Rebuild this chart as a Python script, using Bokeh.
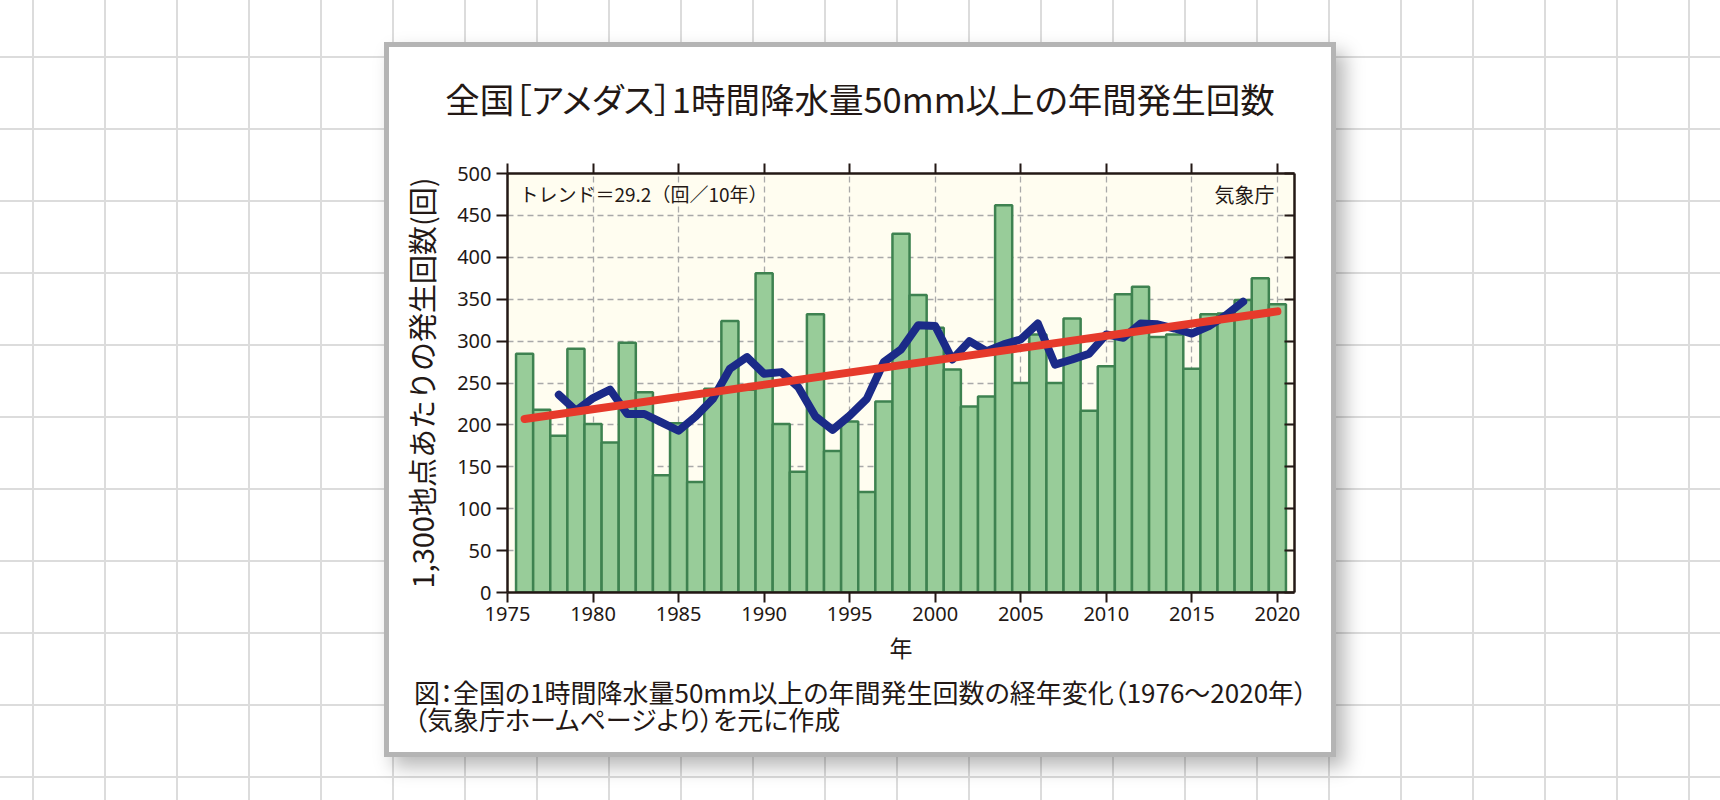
from bokeh.plotting import figure
from bokeh.models import Range1d, LinearAxis, SingleIntervalTicker, Label, CustomJSTickFormatter, Div
from bokeh.layouts import column
from bokeh.embed import file_html
from bokeh.resources import INLINE

# ---------------- data ----------------
years = list(range(1976, 2021))
counts = [285, 218, 187, 291, 201, 179, 298, 239, 140, 202,
          132, 243, 324, 242, 381, 201, 144, 332, 169, 204,
          120, 228, 428, 355, 316, 266, 222, 234, 462, 250,
          308, 250, 327, 217, 270, 356, 365, 305, 308, 267,
          332, 333, 349, 375, 344]
ma_years = list(range(1978, 2019))
ma_values = [236, 217, 232, 242, 213, 213, 203, 193, 210, 231,
             267, 281, 261, 263, 245, 210, 194, 211, 231, 275,
             290, 319, 318, 278, 300, 288, 296, 302, 321, 272,
             278, 285, 308, 304, 321, 320, 315, 309, 318, 331, 347]
trend_years = [1976, 2020]
trend_values = [207, 335.5]

title_text = "全国［アメダス］1時間降水量50mm以上の年間発生回数"
y_label = "1,300地点あたりの発生回数(回)"
x_label = "年"
trend_text = "トレンド＝29.2（回／10年）"
source_text = "気象庁"
caption1 = "図：全国の1時間降水量50mm以上の年間発生回数の経年変化（1976～2020年）"
caption2 = "（気象庁ホームページより）を元に作成"

FONT = "Noto Sans CJK JP"
NUMFONT = "Noto Sans"
TXT = "#231815"

# ---------------- figure ----------------
p = figure(width=942, height=525,
           x_range=Range1d(1975, 2021), y_range=Range1d(0, 500),
           output_backend="svg", toolbar_location=None,
           min_border_left=118, min_border_right=37,
           min_border_top=26, min_border_bottom=80)
p.background_fill_color = "#fffdf0"
p.border_fill_color = "white"
p.outline_line_color = None
p.margin = (0, 0, 0, 0)

def style_axis(ax):
    ax.axis_line_color = TXT
    ax.axis_line_width = 2.5
    ax.major_tick_line_color = TXT
    ax.major_tick_line_width = 2
    ax.minor_tick_line_color = None
    ax.major_label_text_color = TXT
    ax.major_label_text_font = NUMFONT
    ax.axis_label_text_color = TXT
    ax.axis_label_text_font = FONT
    ax.axis_label_text_font_style = "normal"

xax = p.xaxis[0]
xax.ticker = SingleIntervalTicker(interval=5, num_minor_ticks=0)
style_axis(xax)
xax.major_tick_in = 0
xax.major_tick_out = 10
xax.major_label_text_font_size = "20px"
xax.major_label_standoff = 4
xax.axis_label = x_label
xax.axis_label_text_font_size = "23px"
xax.axis_label_standoff = 6

yax = p.yaxis[0]
yax.ticker = SingleIntervalTicker(interval=50, num_minor_ticks=0)
style_axis(yax)
yax.major_tick_in = 0
yax.major_tick_out = 11
yax.major_label_text_font_size = "20px"
yax.major_label_standoff = 5
yax.axis_label = y_label
yax.axis_label_text_font_size = "29px"
yax.axis_label_standoff = 12

top_ax = LinearAxis(ticker=SingleIntervalTicker(interval=5, num_minor_ticks=0),
                    formatter=CustomJSTickFormatter(code="return ''"))
style_axis(top_ax)
top_ax.major_tick_in = 0
top_ax.major_tick_out = 10
p.add_layout(top_ax, "above")

right_ax = LinearAxis(ticker=SingleIntervalTicker(interval=50, num_minor_ticks=0),
                      formatter=CustomJSTickFormatter(code="return ''"))
style_axis(right_ax)
right_ax.major_tick_in = 10
right_ax.major_tick_out = 0
p.add_layout(right_ax, "right")

for g in (p.xgrid[0], p.ygrid[0]):
    g.grid_line_color = "#a9a9a9"
    g.grid_line_width = 1.3
    g.grid_line_dash = "6 4"

# ---------------- marks ----------------
p.vbar(x=years, top=counts, bottom=0, width=1,
       fill_color="#98cc99", line_color="#3e8250", line_width=2.5)
p.line(ma_years, ma_values, line_color="#1b2a88", line_width=8,
       line_cap="round", line_join="round")
p.line(trend_years, trend_values, line_color="#e63a2b", line_width=8,
       line_cap="round")

# ---------------- texts inside the frame ----------------
# frame geometry (page pixels) used to place the in-frame notes
FL, FR, FT, FB = 507.0, 1294.0, 173.0, 592.0
def X(px):
    return 1975 + (px - FL) / ((FR - FL) / 46.0)
def Y(py):
    return (FB - py) / ((FB - FT) / 500.0)

p.add_layout(Label(x=X(519), y=Y(193), text=trend_text, text_font=FONT,
                   text_font_size="19px", text_color=TXT,
                   text_align="left", text_baseline="middle"))
p.add_layout(Label(x=X(1274), y=Y(194), text=source_text, text_font=FONT,
                   text_font_size="20px", text_color=TXT,
                   text_align="right", text_baseline="middle"))

# ---------------- title / caption ----------------
title_div = Div(
    text=(f'<div style="display:block;width:942px;font-family:\'{FONT}\';font-size:34.5px;'
          f'font-feature-settings:\'palt\' 1;line-height:40px;color:{TXT};text-align:center;'
          f'white-space:nowrap;padding-top:31px;">{title_text}</div>'),
    width=942, height=100, margin=(0, 0, 0, 0))

caption_div = Div(
    text=(f'<div style="display:block;width:917px;padding-top:7px;padding-left:25px;'
          f'line-height:26.5px;font-family:\'{FONT}\';font-size:26px;'
          f'font-feature-settings:\'palt\' 1;color:{TXT};white-space:pre;">'
          f'{caption1}\n{caption2}</div>'),
    width=942, height=80, margin=(0, 0, 0, 0))

card = column(title_div, p, caption_div, width=942, height=705, spacing=0,
              margin=(47, 0, 0, 389),
              styles={"background-color": "#ffffff",
                      "box-shadow": "0 0 0 5px #b4b4b4, 9px 10px 18px 5px rgba(0,0,0,0.28)"})

page = column(card, width=1720, height=800, styles={
    "background-color": "#ffffff",
    "background-image": ("linear-gradient(to right, #dcdcdc 0px, #dcdcdc 2px, transparent 2px), "
                         "linear-gradient(to bottom, #dcdcdc 0px, #dcdcdc 2px, transparent 2px)"),
    "background-size": "72px 72px",
    "background-position": "32px 56px",
})

open("out.html", "w").write(file_html(page, INLINE, title="全国アメダス 1時間降水量50mm以上"))
